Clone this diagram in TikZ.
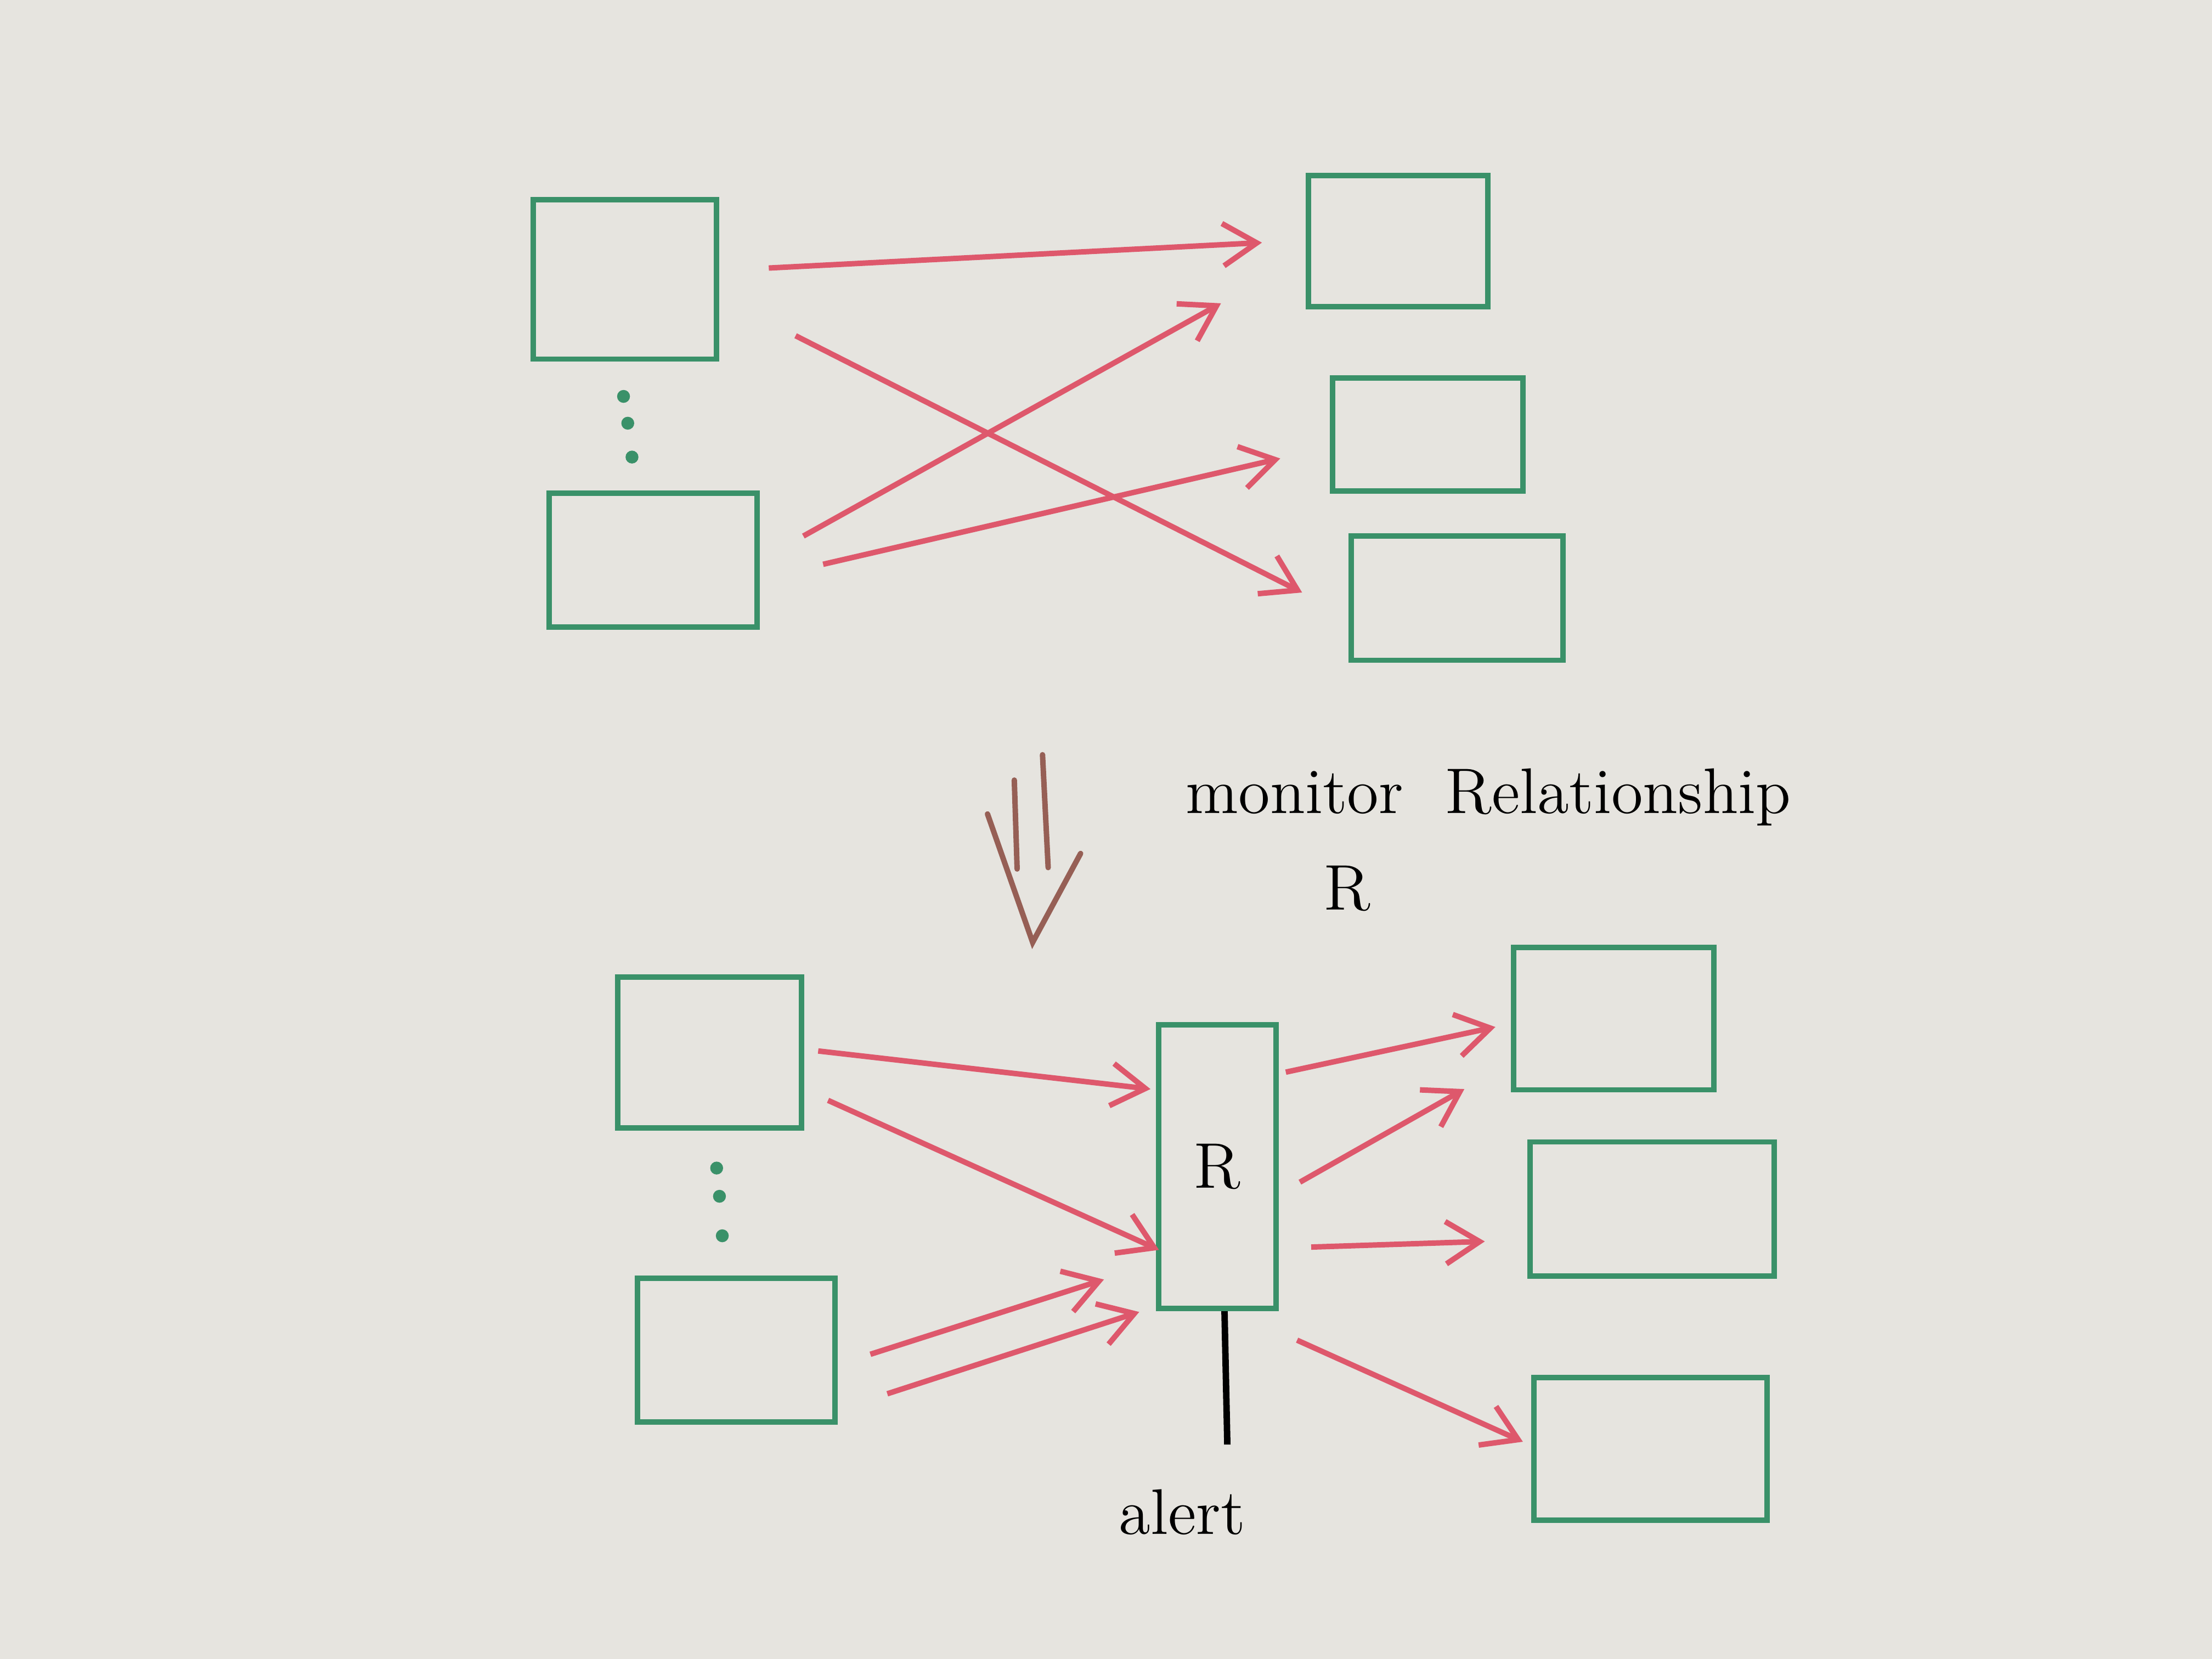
\documentclass[tikz,border=0pt]{standalone}
\usepackage{tikz}
\usetikzlibrary{arrows.meta, positioning, calc}
\definecolor{paper}{RGB}{230,228,223}
\definecolor{pencilgreen}{RGB}{58,145,105}
\definecolor{pencilred}{RGB}{222,88,108}
\definecolor{pencilbrown}{RGB}{150,95,85}

\begin{document}
\begin{tikzpicture}[
        x=0.01cm, y=-0.01cm,
        box/.style={rectangle, draw=pencilgreen, line width=1.1pt, inner sep=0pt},
        arrow/.style={-{Straight Barb[length=2.4mm, width=3mm]}, draw=pencilred, line width=1.1pt},
        hand/.style={font=\fontsize{13}{15}\selectfont, text=black, inner sep=0pt}
    ]
        \fill[paper] (0,0) rectangle (1568,1176);

        % before
        \node[box, minimum width=1.30cm, minimum height=1.13cm] (a1) at (443,198) {};
        \node[box, minimum width=1.47cm, minimum height=0.95cm] (a2) at (463,397) {};
        \node[box, minimum width=1.27cm, minimum height=0.93cm] (b1) at (991,171) {};
        \node[box, minimum width=1.35cm, minimum height=0.80cm] (b2) at (1012,308) {};
        \node[box, minimum width=1.50cm, minimum height=0.88cm] (b3) at (1033,424) {};
        \foreach \x/\y in {442/281, 445/300, 448/324}
            \fill[pencilgreen] (\x,\y) circle (1.3pt);

        \draw[arrow] ([shift={(35,-8)}]a1.east) -- ([shift={(-31,1)}]b1.west);
        \draw[arrow] ([shift={(54,40)}]a1.east) -- ([shift={(-33,-4)}]b3.west);
        \draw[arrow] ([shift={(31,-17)}]a2.east) -- ([shift={(-60,44)}]b1.west);
        \draw[arrow] ([shift={(45,3)}]a2.east) -- ([shift={(-35,17)}]b2.west);

        % transformation arrow
        \coordinate (tip) at (732,668);
        \draw[pencilbrown, line width=1.1pt, line cap=round]
            ([shift={(-13,-115)}]tip) -- ([shift={(-11,-52)}]tip)
            ([shift={(7,-133)}]tip) -- ([shift={(11,-53)}]tip)
            ([shift={(-32,-91)}]tip) -- (tip) -- ([shift={(34,-63)}]tip);

        \node[hand] (title) at (1055,565) {monitor\ \ Relationship};
        \node[hand] (rname) at (955,630) {R};

        % after
        \node[box, minimum width=1.30cm, minimum height=1.07cm] (c1) at (503,746) {};
        \node[box, minimum width=1.40cm, minimum height=1.02cm] (c2) at (522,957) {};
        \node[box, minimum width=0.83cm, minimum height=2.01cm, font=\fontsize{13}{15}\selectfont] (rel) at (863,827) {R};
        \node[box, minimum width=1.42cm, minimum height=1.01cm] (d1) at (1144,722) {};
        \node[box, minimum width=1.73cm, minimum height=0.95cm] (d2) at (1171,857) {};
        \node[box, minimum width=1.65cm, minimum height=1.01cm] (d3) at (1170,1027) {};
        \foreach \x/\y in {508/828, 510/848, 512/876}
            \fill[pencilgreen] (\x,\y) circle (1.3pt);

        \draw[arrow] ([shift={(10,-1)}]c1.east) -- ([shift={(-4,-55)}]rel.west);
        \draw[arrow] ([shift={(17,34)}]c1.east) -- ([shift={(2,59)}]rel.west);
        \draw[arrow] ([shift={(23,3)}]c2.east) -- ([shift={(-37,80)}]rel.west);
        \draw[arrow] ([shift={(35,31)}]c2.east) -- ([shift={(-12,103)}]rel.west);

        \draw[arrow] ([shift={(5,-67)}]rel.east) -- ([shift={(-11,6)}]d1.west);
        \draw[arrow] ([shift={(15,11)}]rel.east) -- ([shift={(-33,50)}]d1.west);
        \draw[arrow] ([shift={(23,57)}]rel.east) -- ([shift={(-30,23)}]d2.west);
        \draw[arrow] ([shift={(13,123)}]rel.east) -- ([shift={(-6,-5)}]d3.west);

        \node[hand] (alert) at (838,1072) {alert};
        \coordinate (alertend) at (870,1024);
        \draw[black, line width=1.3pt] ([shift={(5,0)}]rel.south) -- (alertend);
    \end{tikzpicture}
\end{document}
